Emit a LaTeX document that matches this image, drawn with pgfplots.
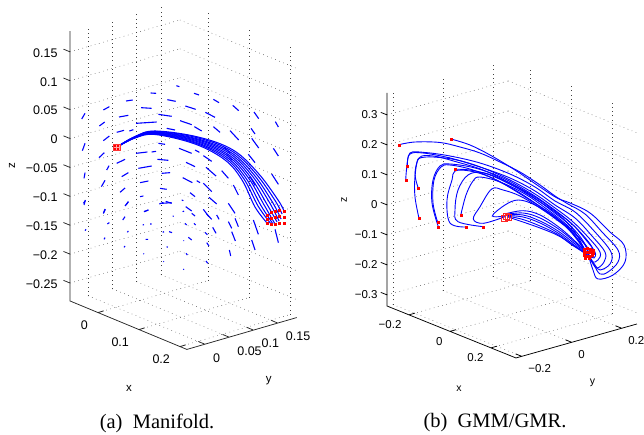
\documentclass[border=0pt]{standalone}
\usepackage{pgfplots}
\usepackage{fontspec}
\setmainfont{Liberation Sans}
\newfontfamily\capfont{Liberation Serif}
\pgfplotsset{compat=1.18}
% Points in picture units and laid on a vertical plane through the box.
\pgfplotsset{
 table/mapA/.style 2 args={x expr=0.07+((#1)-181.5)/820,y expr=0.076+((#1)-181.5)/972,z expr=(146.084+0.0622*((#1)-181.5)-(#2))/578},
 table/mapB/.style 2 args={x expr=((#1)-510.7)/410,y expr=0.02+((#1)-510.7)/500,z expr=(213.196+0.0611*((#1)-510.7)-(#2))/300},
 traja/.style={blue,line width=1.05pt,smooth,no marks,tension=0.6},
 traj/.style={blue,line width=0.9pt,smooth,no marks,tension=0.6},
 seg/.style={blue,line width=1.1pt,no marks,empty line=jump},
 frame/.style={black!85,line width=0.75pt,no marks,empty line=jump},
 redpt/.style={only marks,mark=square*,mark size=1pt,red,mark options={fill=red,draw=red}},
 mlab/.style={
  grid=major,grid style={black!75,line width=0.5pt,dash pattern=on 0.6pt off 3.7pt},
  axis line style={draw=none},
  major tick length=0pt,
  clip=false,
  xtick pos=lower,xticklabel pos=lower,ytick pos=upper,yticklabel pos=upper,ztick pos=lower,zticklabel pos=lower,
 },
}
\begin{document}
\begin{tikzpicture}
\path[use as bounding box] (0,0) rectangle (644pt,434pt);
%%%%%%%%%%%%%%%% (a)
\begin{axis}[mlab,at={(115.9pt,289.1pt)},anchor=origin,
 x={(410pt,-170pt)},y={(486pt,141pt)},z={(0pt,578pt)},
 xmin=-0.068,xmax=0.217,ymin=-0.037,ymax=0.189,zmin=-0.281,zmax=0.186,
 xtick={0,0.1,0.2},xticklabels={0,0.1,0.2},
 ytick={0,0.05,0.1,0.15},yticklabels={0,0.05,0.1,0.15},
 ztick={-0.25,-0.2,-0.15,-0.1,-0.05,0,0.05,0.1,0.15},
 zticklabels={−0.25,−0.2,−0.15,−0.1,−0.05,0,0.05,0.1,0.15},
 ticklabel style={font=\fontsize{12.5}{13}\selectfont},
 xticklabel style={anchor=north east,xshift=-6.5pt,yshift=-5pt},
 yticklabel style={anchor=north west,xshift=121.5pt,yshift=-324pt},
 zticklabel style={anchor=east,xshift=-9pt,yshift=-1pt},
 label style={font=\fontsize{11.5}{12}\selectfont},
 xlabel={x},ylabel={y},
 every axis x label/.append style={at={(rel axis cs:0.5,0,0)},anchor=center,xshift=0.5pt,yshift=-63pt},
 every axis y label/.append style={at={(rel axis cs:1,0.5,0)},anchor=center,xshift=27pt,yshift=-47pt},
]
\addplot3[frame] table {
x y z
-0.068 -0.037 0.186
-0.068 -0.037 -0.281
0.217 -0.037 -0.281
0.217 0.189 -0.281

0 -0.037 -0.281
0 -0.025 -0.281

0.1 -0.037 -0.281
0.1 -0.025 -0.281

0.2 -0.037 -0.281
0.2 -0.025 -0.281

0.217 0 -0.281
0.201 0 -0.281

0.217 0.05 -0.281
0.201 0.05 -0.281

0.217 0.1 -0.281
0.201 0.1 -0.281

0.217 0.15 -0.281
0.201 0.15 -0.281

-0.068 -0.037 -0.25
-0.084 -0.037 -0.25

-0.068 -0.037 -0.2
-0.084 -0.037 -0.2

-0.068 -0.037 -0.15
-0.084 -0.037 -0.15

-0.068 -0.037 -0.1
-0.084 -0.037 -0.1

-0.068 -0.037 -0.05
-0.084 -0.037 -0.05

-0.068 -0.037 0
-0.084 -0.037 0

-0.068 -0.037 0.05
-0.084 -0.037 0.05

-0.068 -0.037 0.1
-0.084 -0.037 0.1

-0.068 -0.037 0.15
-0.084 -0.037 0.15
};
\addplot3[seg] table[mapA={\thisrow{px}/3}{\thisrow{py}/3}] {
px py
245 357
255 340

310 330
328 320

378 303
398 300

452 279
468 280

502 299
527 304

529 257
538 260

582 280
597 285

556 318
587 328

423 323
455 325

640 298
657 308

698 316
716 332

762 336
776 356

826 365
835 381

616 337
645 352

540 362
575 374

475 343
515 349

357 351
385 346

408 370
470 366

298 378
314 366

350 397
372 391

388 393
400 389

500 385
525 390

583 380
605 393

640 380
660 397

690 392
716 420

753 385
765 402

755 415
776 444

820 445
835 468

310 422
328 408

247 452
255 430

297 473
313 458

350 490
375 478

408 460
442 456

455 456
468 454

475 430
495 433

537 445
575 460

585 450
598 457

610 467
635 484

672 442
690 458

680 463
695 480

745 463
765 488

415 505
455 498

472 478
505 481

558 487
585 500

618 502
648 528

320 510
327 497

252 535
255 518

365 530
385 518

485 520
510 518

548 533
577 548

420 548
445 543

665 512
685 535

750 530
765 556

815 522
835 553

304 560
315 541

480 565
500 568

360 577
375 564

590 542
600 548

610 550
635 575

700 555
715 585

252 615
256 600

570 578
585 590

420 590
430 588

375 618
385 605

310 640
316 628

478 612
490 607

497 604
515 610

432 635
445 630

557 620
575 633

627 592
650 612

685 610
705 640

545 600
550 602

610 628
625 648
};
\addplot3[seg] table[mapA={\thisrow{px}/3}{200+\thisrow{py}/3}] {
px py
250 10
256 2

310 40
315 27

368 60
375 50

378 15
385 5

432 35
445 30

322 72
328 68

255 92
258 88

382 97
385 93

428 75
432 74

450 72
455 72

488 97
492 95

437 118
444 118

312 118
315 113

372 142
375 138

485 10
515 8

518 48
521 49

548 35
552 33

575 40
585 48

620 42
635 58

650 45
657 58

685 65
695 85

705 55
715 80

760 60
775 103

695 95
706 123

755 120
765 150

825 88
835 128

555 70
560 75

582 70
587 75

615 97
622 104

638 82
648 100

507 95
516 98

500 140
503 142

550 122
552 122

565 112
575 120

620 128
627 138

688 150
692 168

558 160
562 165

618 183
623 190

430 161
432 162

490 184
492 185

550 207
552 209
};
% trajectories
\addplot3[traja] table[mapA={\thisrow{px}}{\thisrow{py}}] {
px py
117 147
135 136.5
155 131
198 137
233 150
258 173
278 200
284 211
};
\addplot3[traja] table[mapA={\thisrow{px}}{\thisrow{py}}] {
px py
117 147
135 136.7
155 131.4
197.6 137.8
232 151.2
256 173.8
275.2 200.8
282 214
};
\addplot3[traja] table[mapA={\thisrow{px}}{\thisrow{py}}] {
px py
117 147
135 136.9
155 131.9
197.2 138.8
231 152.5
254 174.8
272.2 201.8
281 219
};
\addplot3[traja] table[mapA={\thisrow{px}}{\thisrow{py}}] {
px py
117 147
135 137.1
155 132.3
196.9 139.6
230 153.7
252 175.6
269.5 202.6
279 221
};
\addplot3[traja] table[mapA={\thisrow{px}}{\thisrow{py}}] {
px py
117 147
135 137.3
155 132.8
196.5 140.5
229 155
250 176.5
266.5 203.5
277 222
};
\addplot3[traja] table[mapA={\thisrow{px}}{\thisrow{py}}] {
px py
117 147
135 137.4
155 133.2
196.1 141.3
228 156.2
248 177.3
263.7 204.3
275 224
};
\addplot3[traja] table[mapA={\thisrow{px}}{\thisrow{py}}] {
px py
117 147
135 137.6
155 133.6
195.8 142.3
227 157.5
246 178.3
260.8 205.3
273 224
};
\addplot3[traja] table[mapA={\thisrow{px}}{\thisrow{py}}] {
px py
117 147
135 137.8
155 134
195.4 143.1
226 158.7
244 179.1
258 206
271 224
};
\addplot3[traja] table[mapA={\thisrow{px}}{\thisrow{py}}] {
px py
117 147
135 138
155 134.5
195 144
225 160
242 180
255 207
267 223
};
\addplot3[redpt] table[mapA={\thisrow{px}}{\thisrow{py}}] {
px py
284 211
279.5 210.5
275 211
271 212.5
267 215
284 217
279.5 216
275 217
271 218
267 219
284 223
279.5 223
275 224.5
271 224
267 223
};
\addplot3[only marks,mark=square*,mark size=3.3pt,red!90,mark options={fill=red!35,draw=red!80,line width=0.6pt}] table[mapA={\thisrow{px}}{\thisrow{py}}] {
px py
116.5 147.5
};
\addplot3[only marks,mark=square*,mark size=0.6pt,red,mark options={fill=red,draw=red}] table[mapA={\thisrow{px}}{\thisrow{py}}] {
px py
115 146
118 146
115 149
118 149
};
\end{axis}
%%%%%%%%%%%%%%%% (b)
\begin{axis}[mlab,at={(505.7pt,219.4pt)},anchor=origin,
 x={(205pt,-82.6pt)},y={(250pt,70.2pt)},z={(0pt,300pt)},
 xmin=-0.307,xmax=0.322,ymin=-0.223,ymax=0.261,zmin=-0.337,zmax=0.373,
 xtick={-0.2,0,0.2},xticklabels={−0.2,0,0.2},
 ytick={-0.2,0,0.2},yticklabels={−0.2,0,0.2},
 ztick={-0.3,-0.2,-0.1,0,0.1,0.2,0.3},
 zticklabels={−0.3,−0.2,−0.1,0,0.1,0.2,0.3},
 ticklabel style={font=\fontsize{11.5}{12}\selectfont},
 xticklabel style={anchor=north east,xshift=-4pt,yshift=-2.5pt},
 yticklabel style={anchor=north west,xshift=132pt,yshift=-269.5pt},
 zticklabel style={anchor=east,xshift=-6pt,yshift=0pt},
 label style={font=\fontsize{10.5}{11}\selectfont},
 xlabel={x},ylabel={y},
 every axis x label/.append style={at={(rel axis cs:0.5,0,0)},anchor=center,xshift=7.5pt,yshift=-57pt},
 every axis y label/.append style={at={(rel axis cs:1,0.5,0)},anchor=center,xshift=16pt,yshift=-42pt},
]
\addplot3[frame,black] table {
x y z
-0.307 -0.223 0.373
-0.307 -0.223 -0.337
0.322 -0.223 -0.337
0.322 0.261 -0.337

-0.2 -0.223 -0.337
-0.2 -0.199 -0.337

0 -0.223 -0.337
0 -0.199 -0.337

0.2 -0.223 -0.337
0.2 -0.199 -0.337

0.322 -0.2 -0.337
0.292 -0.2 -0.337

0.322 0 -0.337
0.292 0 -0.337

0.322 0.2 -0.337
0.292 0.2 -0.337

-0.307 -0.223 -0.3
-0.337 -0.223 -0.3

-0.307 -0.223 -0.2
-0.337 -0.223 -0.2

-0.307 -0.223 -0.1
-0.337 -0.223 -0.1

-0.307 -0.223 0
-0.337 -0.223 0

-0.307 -0.223 0.1
-0.337 -0.223 0.1

-0.307 -0.223 0.2
-0.337 -0.223 0.2

-0.307 -0.223 0.3
-0.337 -0.223 0.3
};
\addplot3[traj] table[mapB={\thisrow{px}}{\thisrow{py}}] {
px py
451 139
470 145
490 155
515 170
540 187
557 198
570 203
590 213
610 232
624 245
625 262
613 275
598 279
593 270
588 254
};
\addplot3[traj] table[mapB={\thisrow{px}}{\thisrow{py}}] {
px py
399 144.7
415 142
440 142.5
460 147
480 153
500 162
520 172
540 185
555 196
568 204
585 214
602 232
618 250
618 262
608 272
600 274
594 265
588 254
};
\addplot3[traj] table[mapB={\thisrow{px}}{\thisrow{py}}] {
px py
407.3 166
410 153
425 152.5
450 156
480 163
510 174
535 187
555 201
575 212
595 232
611 252
610 264
600 270
595 265
588 254
};
\addplot3[traj] table[mapB={\thisrow{px}}{\thisrow{py}}] {
px py
405.7 180
407 165
410 154
423 153
450 158
480 167
510 178
535 191
555 205
575 218
592 236
605 252
604 262
597 268
592 262
588 254
};
\addplot3[traj] table[mapB={\thisrow{px}}{\thisrow{py}}] {
px py
418.3 188.3
415 175
417 162
420 158
433 157
457 160
483 168
510 180
535 194
555 208
572 221
588 237
600 252
598 260
592 262
588 254
};
\addplot3[traj] table[mapB={\thisrow{px}}{\thisrow{py}}] {
px py
419 218.3
415 197
415 177
419 158
433 156
457 162
483 170
510 183
535 197
555 211
572 224
586 240
595 252
594 258
588 254
};
\addplot3[traj] table[mapB={\thisrow{px}}{\thisrow{py}}] {
px py
437.7 222.3
433 203
434 180
441 167
450 165
473 170
500 182
525 197
548 212
568 227
584 243
590 252
588 254
};
\addplot3[traj] table[mapB={\thisrow{px}}{\thisrow{py}}] {
px py
438.3 226.7
432 203
433 180
440 166
450 164
475 168
503 178
530 193
552 208
572 224
587 240
593 250
588 254
};
\addplot3[traj] table[mapB={\thisrow{px}}{\thisrow{py}}] {
px py
455 169.3
470 170
490 175
515 187
540 202
560 216
578 234
587 248
588 254
};
\addplot3[traj] table[mapB={\thisrow{px}}{\thisrow{py}}] {
px py
466.3 227
450 223
447 200
452 180
455 171
470 171
490 177
515 190
538 205
558 219
575 236
587 254
};
\addplot3[traj] table[mapB={\thisrow{px}}{\thisrow{py}}] {
px py
483.3 226.7
458 221.7
455 210
458 190
468 175
483 172.7
505 181
530 195
552 211
572 228
587 254
};
\addplot3[traj] table[mapB={\thisrow{px}}{\thisrow{py}}] {
px py
460.7 215.3
466 195
473 181
480 177
500 182
525 194
548 210
568 226
585 245
588 254
};
\addplot3[traj] table[mapB={\thisrow{px}}{\thisrow{py}}] {
px py
505 216.7
483.3 223.3
473.3 219
480 206.7
491.7 189
503 190
520 196
540 208
557 220
573 233
587 253
};
\addplot3[traj] table[mapB={\thisrow{px}}{\thisrow{py}}] {
px py
505 216
492.3 216
505 205
518.3 200
535 205
555 218
570 231
587 253
};
\addplot3[traj] table[mapB={\thisrow{px}}{\thisrow{py}}] {
px py
505 214
523 210.7
540 215
560 228
577 243
587 252
};
\addplot3[traj] table[mapB={\thisrow{px}}{\thisrow{py}}] {
px py
505 214.5
523 213
540 218
560 230
577 244
587 252.5
};
\addplot3[traj] table[mapB={\thisrow{px}}{\thisrow{py}}] {
px py
506 215
523 215
540 221
558 231
575 244
587 253
};
\addplot3[traj] table[mapB={\thisrow{px}}{\thisrow{py}}] {
px py
506 215.5
523 217
540 223
558 233
574 245
587 253.5
};
\addplot3[traj] table[mapB={\thisrow{px}}{\thisrow{py}}] {
px py
507 216
523 219.5
540 226
557 234
572 245
587 254
};
\addplot3[traj] table[mapB={\thisrow{px}}{\thisrow{py}}] {
px py
508 217
523 222
540 228
557 235
570 243
587 255
};
\addplot3[redpt] table[mapB={\thisrow{px}}{\thisrow{py}}] {
px py
399 144.7
451 139
407.3 166
405.7 180
418.3 188.3
419 218.3
437.7 222.3
438.3 226.7
455 169.3
460.7 215.3
466.3 227
483.3 226.7
584 249
587 248
590 249
593 250
584 252
587 252
590 252
593 253
584 255
587 256
590 256
592 255
585 258
589 258
};
\addplot3[only marks,mark=square,mark size=2.8pt,red,mark options={draw=red!85,line width=0.5pt}] table[mapB={\thisrow{px}}{\thisrow{py}}] {
px py
506 216
504 218
508 217
};
\end{axis}
\node[rotate=90,font=\fontsize{11.5}{12}\selectfont] at (12pt,268pt) {z};
\node[rotate=90,font=\fontsize{10.5}{11}\selectfont] at (344pt,234pt) {z};
\node[font=\capfont\fontsize{20.5}{22}\selectfont] at (157pt,11pt) {(a)\ \ Manifold.};
\node[font=\capfont\fontsize{20.5}{22}\selectfont] at (495pt,11pt) {(b)\ \ GMM/GMR.};
\end{tikzpicture}
\end{document}
